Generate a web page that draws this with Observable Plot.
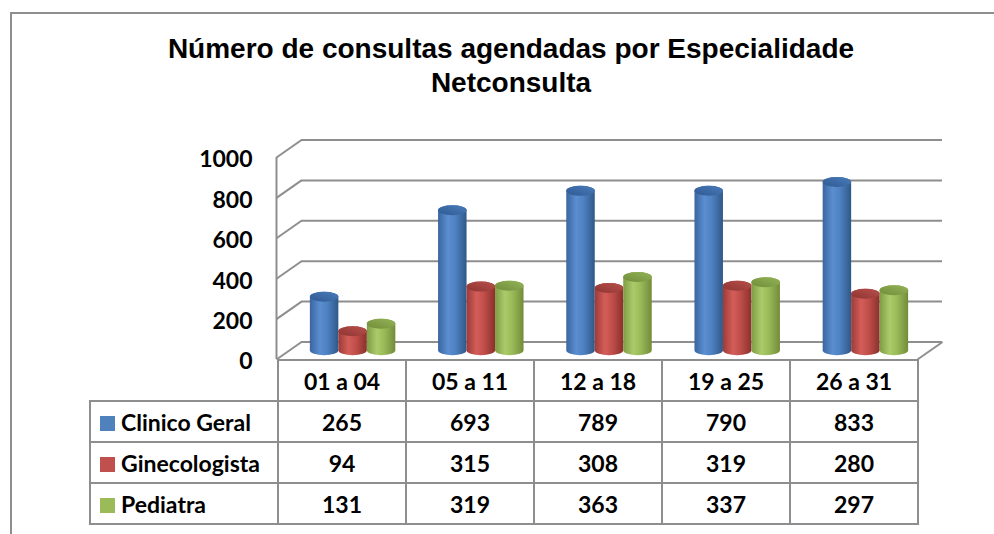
<!DOCTYPE html>
<html>
<head>
<meta charset="utf-8">
<script src="https://cdn.jsdelivr.net/npm/d3@7"></script>
<script src="https://cdn.jsdelivr.net/npm/@observablehq/plot@0.6"></script>
<style>
  html, body { margin: 0; padding: 0; background: #fff; }
  #wrap { position: relative; width: 994px; height: 534px; overflow: hidden; background: #fff; }
  #frame { position: absolute; left: 10px; top: 12px; right: -5px; bottom: -5px;
           border-top: 2px solid #8e8e8e; border-left: 2px solid #8e8e8e; }
  #title { position: absolute; left: 28px; width: 966px; top: 32px; text-align: center;
           font-family: "Liberation Sans", Arial, sans-serif; font-weight: bold; font-size: 28px;
           line-height: 34px; color: #000; }
  #chart { position: absolute; left: 0; top: 0; }
  #table { position: absolute; left: 89px; top: 359px; border-collapse: collapse;
           font-family: Lato, "Open Sans", sans-serif; font-weight: bold; font-size: 23px; color: #000; }
  #table td { border: 2px solid #8e8e8e; text-align: center; padding: 0; height: 39px; }
  #table td.lab { text-align: left; padding-left: 9px; width: 177px; white-space: nowrap; }
  #table td.val { width: 126px; }
  #table td.blank { border: none; }
  #table .sw { display: inline-block; width: 15px; height: 15px; margin-right: 6px; vertical-align: 0px; }
</style>
</head>
<body>
<div id="wrap">
  <div id="frame"></div>
  <div id="chart"></div>
  <div id="title">Número de consultas agendadas por Especialidade<br>Netconsulta</div>
  <table id="table"></table>
</div>
<script>
// ---- data ----
const categories = ["01 a 04", "05 a 11", "12 a 18", "19 a 25", "26 a 31"];
const series = ["Clinico Geral", "Ginecologista", "Pediatra"];
const clinicoGeral = [265, 693, 789, 790, 833];
const ginecologista = [94, 315, 308, 319, 280];
const pediatra = [131, 319, 363, 337, 297];
const yTicks = [0, 200, 400, 600, 800, 1000];
const seriesColors = ["#4F81BD", "#C0504D", "#9BBB59"];

const seriesValues = [clinicoGeral, ginecologista, pediatra];

// ---- layout (pixels) ----
const W = 994, H = 534;
const mLeft = 276, mRight = 77, mTop = 157, mBottom = 175;
const depthX = 25, depthY = -17.5;   // 3D depth offset in pixels
const xPx = (W - mLeft - mRight) / categories.length;
const yPx = (H - mTop - mBottom) / 1000;
const depthXu = depthX / xPx, depthYu = -depthY / yPx;
const barW = 1 / 4.5, gap = 0.75 / 4.5;
const ry = 5;
const rxBar = barW * xPx / 2;
const grid = "#8e8e8e";

const bars = seriesValues.map((vals, j) =>
  vals.map((v, i) => ({cat: categories[i], s: series[j], v, x1: i + gap + j * barW, x2: i + gap + (j + 1) * barW}))
);

const cylMarks = [];
categories.forEach((c, i) => {
  series.forEach((s, j) => {
    const d = [bars[j][i]];
    cylMarks.push(Plot.rect(d, {x1: "x1", x2: "x2", y1: 0, y2: "v", insetTop: -ry, insetBottom: -ry,
      rx: rxBar, ry: ry, fill: `url(#body${j})`, dx: depthX / 2, dy: depthY / 2}));
    cylMarks.push(Plot.rect(d, {x1: "x1", x2: "x2", y1: "v", y2: "v", insetTop: -ry, insetBottom: -ry,
      rx: rxBar, ry: ry, fill: `url(#top${j})`, dx: depthX / 2, dy: depthY / 2}));
  });
});

const svg = Plot.plot({
  width: W, height: H,
  marginLeft: mLeft, marginRight: mRight, marginTop: mTop, marginBottom: mBottom,
  x: {domain: [0, categories.length], axis: null},
  y: {domain: [0, 1000], axis: null},
  style: {background: "transparent", overflow: "visible"},
  marks: [
    // back wall gridlines
    Plot.ruleY(yTicks, {x1: 0, x2: categories.length, dx: depthX, dy: depthY, stroke: grid, strokeWidth: 2}),
    // side wall diagonals
    Plot.link(yTicks, {x1: 0, y1: d => d, x2: depthXu, y2: d => d + depthYu, stroke: grid, strokeWidth: 2}),
    // front vertical edge
    Plot.ruleX([0], {y1: 0, y2: 1000, stroke: grid, strokeWidth: 2}),
    // floor right diagonal
    Plot.link([0], {x1: categories.length, y1: 0, x2: categories.length + depthXu, y2: depthYu, stroke: grid, strokeWidth: 2}),
    ...cylMarks,
    // y tick labels
    Plot.text(yTicks, {x: 0, y: d => d, text: d => String(d), textAnchor: "end", dx: -24, dy: 2.5,
      fontFamily: "Lato, sans-serif", fontWeight: "bold", fontSize: 23, fill: "#000"})
  ]
});

// gradients
const grads = [
  {body: ["#3a659f", "#5a8ed0", "#4f82c2", "#2f5888"], top: ["#2f5a92", "#4a7bbb"]},
  {body: ["#9c3b38", "#d35d59", "#c24f4b", "#8b302d"], top: ["#8e3431", "#b8504c"]},
  {body: ["#7f9c45", "#aacb6a", "#9bbb59", "#718c3a"], top: ["#6f8c39", "#95b457"]}
];
const defs = d3.select(svg).insert("defs", ":first-child");
grads.forEach((g, j) => {
  const lb = defs.append("linearGradient").attr("id", `body${j}`).attr("x1", 0).attr("x2", 1).attr("y1", 0).attr("y2", 0);
  [0, 0.35, 0.6, 1].forEach((o, k) => lb.append("stop").attr("offset", o).attr("stop-color", g.body[k]));
  const lt = defs.append("linearGradient").attr("id", `top${j}`).attr("x1", 0).attr("x2", 1).attr("y1", 1).attr("y2", 0);
  [0, 1].forEach((o, k) => lt.append("stop").attr("offset", o).attr("stop-color", g.top[k]));
});
document.getElementById("chart").appendChild(svg);

// data table
const table = d3.select("#table");
const head = table.append("tr");
head.append("td").attr("class", "blank");
categories.forEach(c => head.append("td").attr("class", "val").text(c));
series.forEach((s, j) => {
  const tr = table.append("tr");
  const lab = tr.append("td").attr("class", "lab");
  lab.append("span").attr("class", "sw").style("background", seriesColors[j]);
  lab.append("span").text(s);
  seriesValues[j].forEach(v => tr.append("td").attr("class", "val").text(v));
});
</script>
</body>
</html>
